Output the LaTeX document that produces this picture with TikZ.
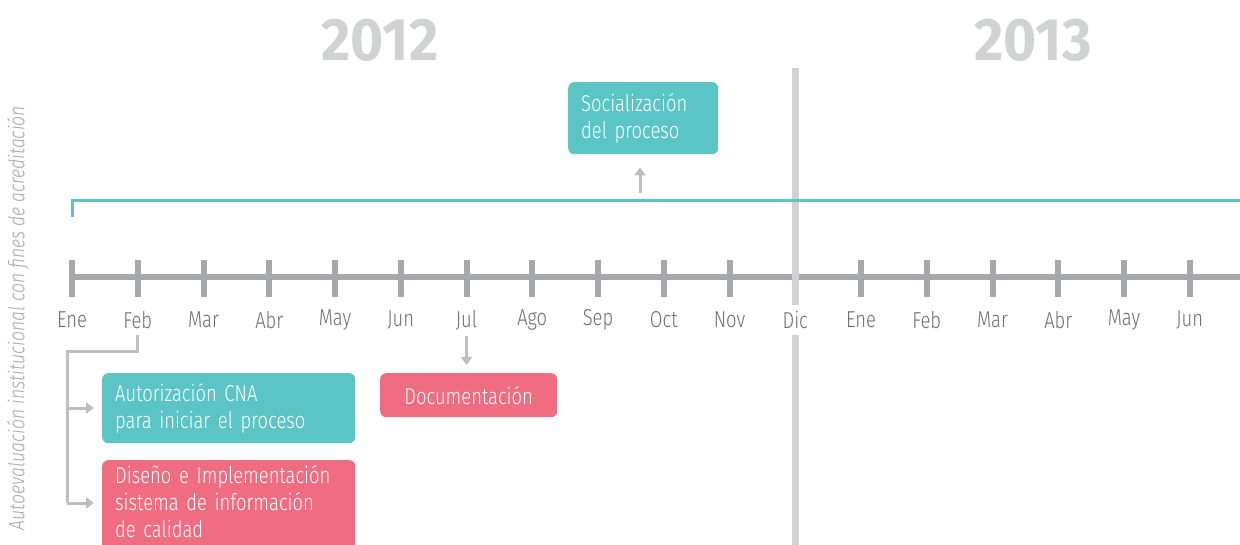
\documentclass[tikz,border=0pt]{standalone}
\usepackage{fontspec}
\setmainfont{Fira Sans}[UprightFont=* Light, ItalicFont=* Light Italic, BoldFont=* Bold, FakeStretch=0.80]
\usepackage{tikz}
\usetikzlibrary{positioning,calc,arrows.meta}
\hyphenpenalty=10000

\definecolor{teal}{HTML}{5BC5C6}
\definecolor{rose}{HTML}{F06C80}
\definecolor{axisgray}{HTML}{A7A8AB}
\definecolor{lightgray}{HTML}{D1D2D4}
\definecolor{linkgray}{HTML}{BDBEC0}
\definecolor{textgray}{HTML}{6D6E71}

\begin{document}
\begin{tikzpicture}[x=1pt,y=-1pt,
    month/.style={fill=white,text=textgray,inner xsep=2pt,inner ysep=6pt,font=\fontsize{23}{26}\selectfont},
    tick/.style={draw=axisgray,line width=6pt},
    year/.style={text=lightgray,xscale=1.18,font=\fontsize{60}{64}\selectfont\bfseries},
    box/.style={rounded corners=6pt,text=white,align=left,anchor=north west,inner xsep=13pt,font=\fontsize{23}{27}\selectfont},
    link/.style={draw=linkgray,line width=3pt},
    arrow/.style={link,-{Triangle[length=8pt,width=11pt]}}]
    \useasboundingbox (0,0) rectangle (1240,545);

    % years
    \node[year] (y12) at (380,40) {2012};
    \node[year] (y13) at (1033,40) {2013};

    % side title
    \node[rotate=90,text=axisgray,font=\fontsize{22}{24}\selectfont\itshape] (title) at (18,318) {Autoevaluación institucional con fines de acreditación};

    % axis and ticks
    \draw[draw=axisgray,line width=6pt] (70,277) -- (1240,277);
    \foreach \i in {0,...,10,12,13,...,17}
        \draw[tick] (72+65.75*\i,260) -- ++(0,37);
    \draw[draw=lightgray,line width=7pt] (795,68) -- (795,545);

    % month labels
    \foreach \m [count=\i from 0] in {Ene,Feb,Mar,Abr,May,Jun,Jul,Ago,Sep,Oct,Nov,Dic,Ene,Feb,Mar,Abr,May,Jun}
        \node[month] (m\i) at (72+65.75*\i,320) {\m};

    % teal bracket
    \coordinate (bstart) at (72,217);
    \coordinate (bend) at (1240,201);
    \draw[draw=teal,line width=3pt] (bstart) |- (bend);

    % boxes
    \node[box,fill=teal,minimum width=150pt,minimum height=72pt,text width=124pt,inner xsep=13pt] (soc) at (568,82) {Socialización\\del proceso};
    \node[box,fill=teal,minimum width=253pt,minimum height=70pt,text width=227pt] (auth) at (102,373) {Autorización CNA\\para iniciar el proceso};
    \node[box,fill=rose,minimum width=253pt,text width=227pt,inner ysep=5pt] (dis) at (102,460) {Diseño e Implementación\\sistema de información\\de calidad\\[-10pt]\mbox{}};
    \node[box,fill=rose,minimum width=177pt,minimum height=44pt,text width=151pt,align=center,inner ysep=2pt] (doc) at (380,373) {Documentación};

    % connectors
    \coordinate (socfoot) at (640,193);
    \draw[arrow,shorten >=13pt] (socfoot) -- (socfoot |- soc.south);
    \draw[arrow,shorten >=8pt] (m6.south) -- (m6.south |- doc.north);
    \coordinate (fork) at (67,352);
    \coordinate (f1) at (67,408);
    \coordinate (f2) at (67,503);
    \draw[link] (m1.south) |- (fork) -- (f2);
    \draw[arrow,shorten >=8pt] (f1) -- (auth.west |- f1);
    \draw[arrow,shorten >=8pt] (f2) -- (dis.west |- f2);
\end{tikzpicture}
\end{document}
